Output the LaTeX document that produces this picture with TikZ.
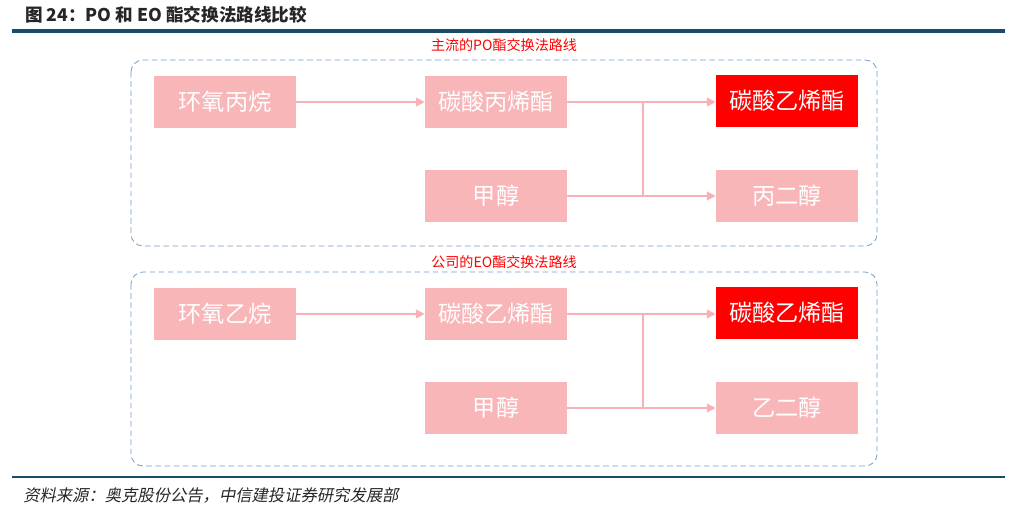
\documentclass[tikz,border=0pt]{standalone}
\usepackage{fontspec}
\usepackage{xcolor}
\usepackage{tikz}
\usetikzlibrary{arrows.meta}
\setmainfont{Noto Sans CJK SC}
\newfontfamily\srcfont{Noto Sans CJK SC}[FakeSlant=0.2]

\definecolor{rulecol}{RGB}{24,76,104}
\definecolor{boxpink}{RGB}{249,182,184}
\definecolor{linepink}{RGB}{246,178,180}
\definecolor{hotred}{RGB}{255,0,0}
\definecolor{framecol}{RGB}{120,160,198}

\tikzset{
  chem/.style={fill=boxpink, text=white, minimum width=3.55cm, minimum height=1.3cm,
    inner sep=0pt, font=\fontsize{16.5}{18}\selectfont},
  chemred/.style={chem, fill=hotred},
  flow/.style={draw=linepink, line width=0.9pt},
  flowarr/.style={flow, -{Triangle[length=2.2mm,width=2.2mm]}},
  routebox/.style={draw=framecol, dash pattern=on 4pt off 2.5pt, rounded corners=0.3cm, line width=0.6pt},
  routetitle/.style={text=hotred, font=\fontsize{10}{12}\selectfont}
}

\begin{document}
\begin{tikzpicture}[x=0.025cm, y=-0.025cm]
  \useasboundingbox (0,0) rectangle (1023,517);

  % header and footer
  \node[anchor=west, inner sep=0pt, font=\bfseries\fontsize{12.5}{14}\selectfont, text=black!85] (title) at (25,15) {图 24：PO 和 EO 酯交换法路线比较};
  \draw[rulecol, line width=2.4pt] (12,31) -- (1005,31);
  \draw[rulecol, line width=1.6pt] (12,477) -- (1005,477);
  \node[anchor=west, inner sep=0pt, font=\srcfont\fontsize{11.6}{14}\selectfont, text=black!85] (src) at (23,495) {资料来源：奥克股份公告，中信建投证券研究发展部};

  % PO route
  \node[routetitle] (potitle) at (504,45) {主流的PO酯交换法路线};
  \draw[routebox] (131,60) rectangle (877,246);

  \node[chem] (po) at (225,102) {环氧丙烷};
  \node[chem] (pc) at (496,102) {碳酸丙烯酯};
  \node[chemred] (ecA) at (787,101) {碳酸乙烯酯};
  \node[chem] (meA) at (496,196) {甲醇};
  \node[chem] (pg) at (787,196) {丙二醇};
  \coordinate (jA1) at (643,102);
  \coordinate (jA2) at (643,196);

  \draw[flowarr] (po) -- (pc);
  \draw[flow] (pc.east) -- (jA1);
  \draw[flowarr] (jA1) -- (ecA.west |- jA1);
  \draw[flow] (meA.east) -- (jA2);
  \draw[flowarr] (jA2) -- (pg);
  \draw[flow] (jA1) -- (jA2);

  % EO route
  \node[routetitle] (eotitle) at (504,262) {公司的EO酯交换法路线};
  \draw[routebox] (131,272) rectangle (877,466);

  \node[chem] (eo) at (225,314) {环氧乙烷};
  \node[chem] (ecB) at (496,314) {碳酸乙烯酯};
  \node[chemred] (ecC) at (787,313) {碳酸乙烯酯};
  \node[chem] (meB) at (496,408) {甲醇};
  \node[chem] (eg) at (787,408) {乙二醇};
  \coordinate (jB1) at (643,314);
  \coordinate (jB2) at (643,408);

  \draw[flowarr] (eo) -- (ecB);
  \draw[flow] (ecB.east) -- (jB1);
  \draw[flowarr] (jB1) -- (ecC.west |- jB1);
  \draw[flow] (meB.east) -- (jB2);
  \draw[flowarr] (jB2) -- (eg);
  \draw[flow] (jB1) -- (jB2);
\end{tikzpicture}
\end{document}
